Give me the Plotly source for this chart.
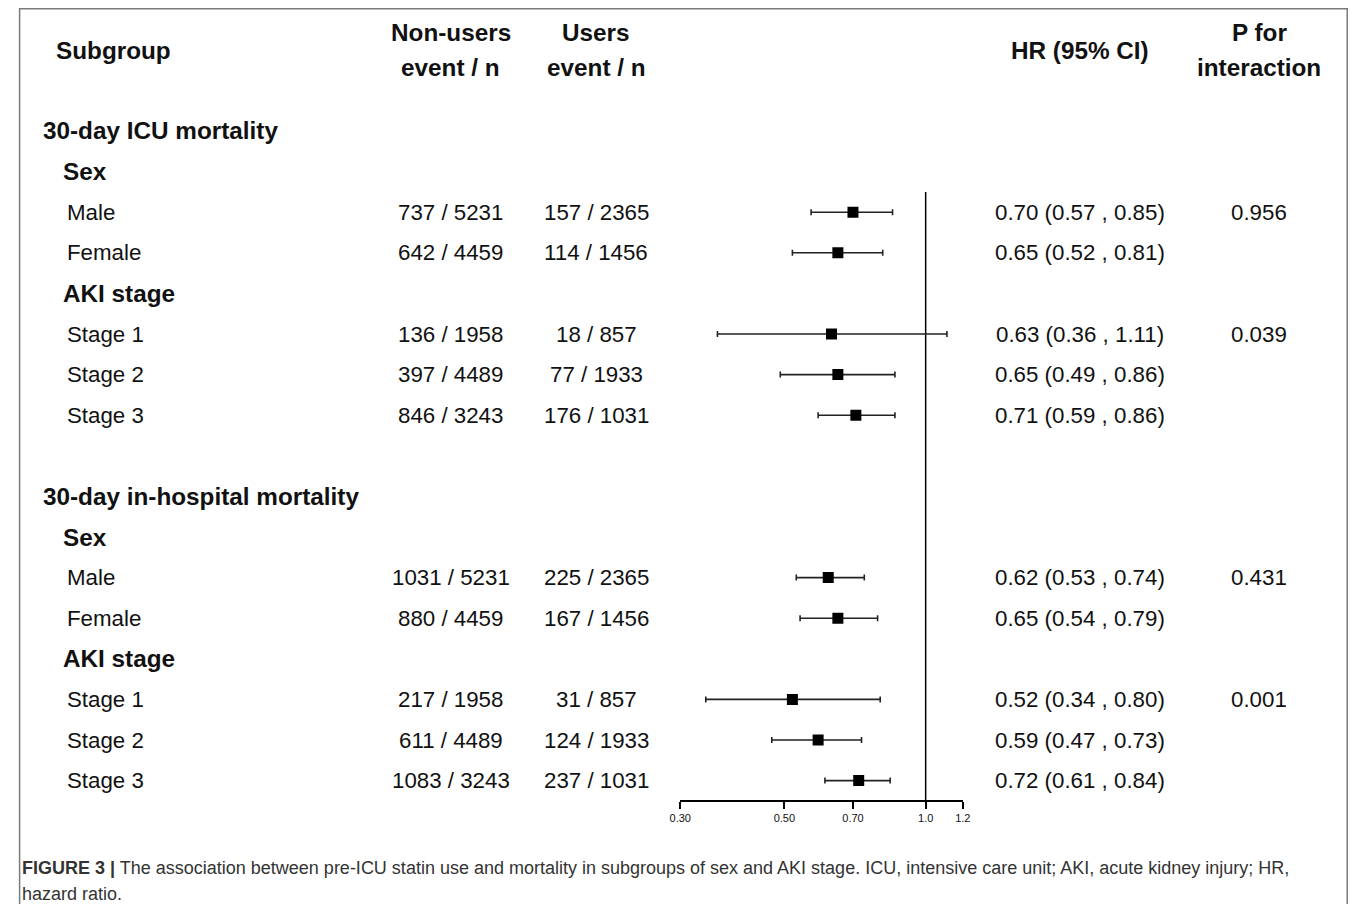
import plotly.graph_objects as go

# figure canvas; measured page->picture mapping: x_pic = 21 + 0.984 * x_fig, y_pic = 8 + y_fig
FW, FH = 1348, 896
AX, SX = 21.0, 0.984
OY = 8

labels = ["30-day ICU mortality", "Sex", "Male", "Female", "AKI stage", "Stage 1", "Stage 2", "Stage 3", "",
          "30-day in-hospital mortality", "Sex", "Male", "Female", "AKI stage", "Stage 1", "Stage 2", "Stage 3"]
levels = [0, 1, 2, 2, 1, 2, 2, 2, -1, 0, 1, 2, 2, 1, 2, 2, 2]
nonusers = ["", "", "737 / 5231", "642 / 4459", "", "136 / 1958", "397 / 4489", "846 / 3243", "",
            "", "", "1031 / 5231", "880 / 4459", "", "217 / 1958", "611 / 4489", "1083 / 3243"]
users = ["", "", "157 / 2365", "114 / 1456", "", "18 / 857", "77 / 1933", "176 / 1031", "",
         "", "", "225 / 2365", "167 / 1456", "", "31 / 857", "124 / 1933", "237 / 1031"]
hr = [None, None, 0.70, 0.65, None, 0.63, 0.65, 0.71, None, None, None, 0.62, 0.65, None, 0.52, 0.59, 0.72]
lo = [None, None, 0.57, 0.52, None, 0.36, 0.49, 0.59, None, None, None, 0.53, 0.54, None, 0.34, 0.47, 0.61]
hi = [None, None, 0.85, 0.81, None, 1.11, 0.86, 0.86, None, None, None, 0.74, 0.79, None, 0.80, 0.73, 0.84]
pint = ["", "", "0.956", "", "", "0.039", "", "", "", "", "", "0.431", "", "", "0.001", "", ""]

tick_vals = [0.30, 0.50, 0.70, 1.0, 1.2]
tick_text = ["0.30", "0.50", "0.70", "1.0", "1.2"]

FONT = "Liberation Sans, Arial, Helvetica, sans-serif"
TXT = "#111111"
REG, BOLD = 22.3, 24.3

# row geometry in reference pixels
row0_px, row_step = 131, 40.6
top_px, axis_px = 192, 800
y_top = (top_px - row0_px) / row_step
y_bot = (axis_px - row0_px) / row_step


def px(x):
    return ((x - AX) / SX) / FW


def py(y):
    return 1 - (y - OY) / FH


def row_py(i):
    return py(row0_px + row_step * i)


idx = [i for i, v in enumerate(hr) if v is not None]
xs = [hr[i] for i in idx]
ys = [i for i in idx]
eplus = [hi[i] - hr[i] for i in idx]
eminus = [hr[i] - lo[i] for i in idx]

fig = go.Figure()
fig.add_trace(go.Scatter(x=[1.0, 1.0], y=[y_top, y_bot], mode="lines",
                         line=dict(color="#000000", width=1.5), hoverinfo="skip", showlegend=False))
fig.add_trace(go.Scatter(
    x=xs, y=ys, mode="markers",
    marker=dict(symbol="square", size=11, color="#000000"),
    error_x=dict(type="data", symmetric=False, array=eplus, arrayminus=eminus,
                 color="#222222", thickness=1.6, width=3),
    showlegend=False))

annotations = []


def add_text(x, y, text, size, anchor="center", color=TXT):
    annotations.append(dict(x=x, y=y, xref="paper", yref="paper", text=text,
                            xanchor=anchor, yanchor="middle", showarrow=False,
                            font=dict(family=FONT, size=size, color=color)))


# headers
add_text(px(56), py(50), "<b>Subgroup</b>", BOLD, "left")
add_text(px(452), py(33), "<b>Non-users</b>", BOLD)
add_text(px(452), py(68), "<b>event / n</b>", BOLD)
add_text(px(597), py(33), "<b>Users</b>", BOLD)
add_text(px(597), py(68), "<b>event / n</b>", BOLD)
add_text(px(1080), py(50), "<b>HR (95% CI)</b>", BOLD)
add_text(px(1259), py(33), "<b>P for</b>", BOLD)
add_text(px(1259), py(68), "<b>interaction</b>", BOLD)

label_x = {0: 43, 1: 63, 2: 67}
for i, lab in enumerate(labels):
    if levels[i] < 0:
        continue
    yy = row_py(i)
    if levels[i] < 2:
        add_text(px(label_x[levels[i]]), yy, "<b>%s</b>" % lab, BOLD, "left")
    else:
        add_text(px(label_x[levels[i]]), yy, lab, REG, "left")
    if nonusers[i]:
        add_text(px(452), yy, nonusers[i], REG)
    if users[i]:
        add_text(px(597), yy, users[i], REG)
    if hr[i] is not None:
        add_text(px(1080), yy, "%.2f (%.2f , %.2f)" % (hr[i], lo[i], hi[i]), REG)
    if pint[i]:
        add_text(px(1259), yy, pint[i], REG)

# caption
cap1 = ("<b>FIGURE 3 |</b> The association between pre-ICU statin use and mortality in subgroups of sex and "
        "AKI stage. ICU, intensive care unit; AKI, acute kidney injury; HR,")
cap2 = "hazard ratio."
add_text(px(22), py(868), cap1, 18.0, "left", "#333333")
add_text(px(22), py(894), cap2, 18.0, "left", "#333333")

fig.update_layout(
    width=FW, height=FH, autosize=False,
    margin=dict(l=0, r=0, t=0, b=0),
    paper_bgcolor="white", plot_bgcolor="white",
    xaxis=dict(type="log", domain=[px(681), px(963)],
               range=[-0.5228787, 0.0791812],
               tickvals=tick_vals, ticktext=tick_text,
               showline=True, linecolor="#000000", linewidth=1.5,
               ticks="outside", ticklen=7, tickwidth=1.5, tickcolor="#000000",
               showgrid=False, zeroline=False,
               tickfont=dict(family=FONT, size=11, color=TXT)),
    yaxis=dict(domain=[py(axis_px), py(top_px)], range=[y_bot, y_top],
               visible=False, showgrid=False, zeroline=False),
    annotations=annotations,
    shapes=[dict(type="rect", xref="paper", yref="paper",
                 x0=0.6 / FW, x1=1 - 0.8 / FW, y0=-0.05, y1=1 - 0.8 / FH,
                 line=dict(color="#7a7a7a", width=1.5), fillcolor="rgba(0,0,0,0)", layer="below")],
)

fig.write_html("out.html")
